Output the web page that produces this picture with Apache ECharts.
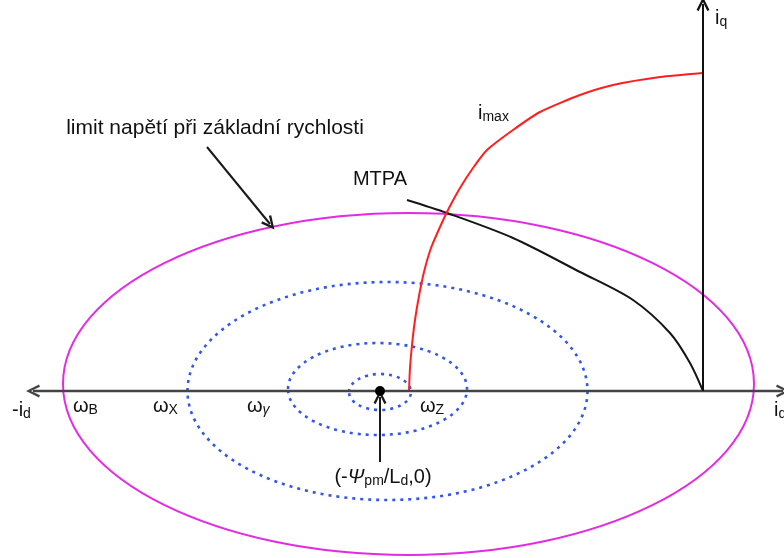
<!DOCTYPE html>
<html>
<head>
<meta charset="utf-8">
<script src="https://cdn.jsdelivr.net/npm/echarts@6/dist/echarts.min.js"></script>
<style>
  html, body { margin: 0; padding: 0; background: #fff; }
  #chart { width: 784px; height: 558px; }
</style>
</head>
<body>
<div id="chart"></div>
<script>
/* ---------- data (id / iq units, origin at the axes crossing) ---------- */
// voltage limit at base speed: [cx, cy, a, b]
const voltageLimit = [[-5.89, 0.14, 6.91, 3.42]];
// higher speed voltage limits (omega_X, omega_Y, omega_Z)
const speedLimits = [
  [-6.31, 0.0, 4.0, 2.18],
  [-6.51, 0.04, 1.79, 0.92],
  [-6.46, -0.02, 0.62, 0.36],
];
// current limit i_max
const imaxCurve = [
  [-5.88, 0], [-5.86, 0.46], [-5.82, 0.92], [-5.76, 1.42], [-5.68, 1.9],
  [-5.58, 2.38], [-5.44, 2.86], [-5.26, 3.28], [-5.08, 3.66], [-4.86, 4.06],
  [-4.6, 4.46], [-4.32, 4.82], [-3.8, 5.22], [-3.26, 5.58], [-2.46, 5.92],
  [-1.8, 6.12], [-0.86, 6.28], [0, 6.36],
];
// MTPA trajectory
const mtpaCurve = [
  [-5.92, 3.82], [-5.12, 3.56], [-3.8, 3.06], [-2.46, 2.38],
  [-1.4, 1.82], [-0.66, 1.16], [-0.26, 0.56], [0, 0],
];
// centre point (-psi/Ld, 0)
const centrePoint = [[-6.46, 0]];
// arrows: [x1, y1, x2, y2, bothEnds]
const idAxis = [-13.4, 0, 1.6, 0, true];
const iqAxis = [0, 0, 0, 7.74, false];
const pointers = [
  [-9.92, 4.88, -8.66, 3.34, false],
  [-6.46, -1.42, -6.46, -0.12, false],
];
// texts: [rich text, x, y, align]
const notes = [
  ["{L|limit napětí při základní rychlosti}", -9.76, 5.26, "center"],
  ["{b|MTPA}", -6.46, 4.24, "center"],
  ["{b|i}{s|max}", -4.5, 5.56, "left"],
  ["{b|i}{s|q}", 0.24, 7.46, "left"],
  ["{b|i}{s|d}", 1.42, -0.38, "left"],
  ["{b|-i}{s|d}", -13.82, -0.38, "left"],
  ["{b|ω}{s|B}", -12.6, -0.3, "left"],
  ["{b|ω}{s|X}", -11.0, -0.3, "left"],
  ["{b|ω}{si|γ}", -9.12, -0.3, "left"],
  ["{b|ω}{s|Z}", -5.66, -0.3, "left"],
  ["{b|(-}{bi|Ψ}{s|pm}{b|/L}{s|d}{b|,0)}", -6.4, -1.72, "center"],
];

/* ---------- helpers ---------- */
const FONT = "'Liberation Sans', Arial, sans-serif";
const TXT = "#111";
const HEAD = "path://M0,13 L6,0 L12,13 L10,14 L6,5 L2,14 Z";

const richStyles = {
  L: { fontFamily: FONT, fontSize: 21, color: TXT },
  b: { fontFamily: FONT, fontSize: 20, color: TXT },
  bi: { fontFamily: FONT, fontSize: 20, color: TXT, fontStyle: "italic" },
  s: { fontFamily: FONT, fontSize: 14, color: TXT, padding: [9, 0, 0, 0] },
  si: { fontFamily: FONT, fontSize: 14, color: TXT, fontStyle: "italic", padding: [9, 0, 0, 0] },
};

function arrowLine(a, color, width) {
  return [
    { coord: [a[0], a[1]], symbol: a[4] ? HEAD : "none", lineStyle: { color: color, width: width } },
    { coord: [a[2], a[3]], symbol: HEAD },
  ];
}

function ellipseSeries(data, style, z) {
  return {
    type: "custom",
    coordinateSystem: "cartesian2d",
    silent: true,
    z: z,
    data: data,
    renderItem: (params, api) => {
      const c = api.coord([api.value(0), api.value(1)]);
      const s = api.size([api.value(2), api.value(3)]);
      return {
        type: "ellipse",
        shape: { cx: c[0], cy: c[1], rx: s[0], ry: s[1] },
        style: Object.assign({ fill: "none" }, style),
      };
    },
  };
}

const chart = echarts.init(document.getElementById("chart"));

const option = {
  animation: false,
  backgroundColor: "#fff",
  grid: { left: 3, right: 1, top: 1, bottom: 2 },
  xAxis: { type: "value", min: -14, max: 1.6, show: false },
  yAxis: { type: "value", min: -3.3, max: 7.8, show: false },
  series: [
    ellipseSeries(voltageLimit, { stroke: "#e32be3", lineWidth: 2 }, 2),
    ellipseSeries(speedLimits, { stroke: "#3457e6", lineWidth: 2.6, lineDash: [3, 5] }, 2),
    {
      type: "line",
      data: imaxCurve,
      z: 4,
      symbol: "none",
      smooth: 0.2,
      lineStyle: { color: "#ff1f1f", width: 2 },
    },
    {
      type: "line",
      data: mtpaCurve,
      z: 3,
      symbol: "none",
      smooth: 0.3,
      lineStyle: { color: "#151515", width: 2 },
    },
    {
      // axes and pointer arrows
      type: "line",
      data: [],
      z: 5,
      markLine: {
        silent: true,
        symbolSize: [13, 14],
        label: { show: false },
        emphasis: { disabled: true },
        lineStyle: { type: "solid", color: "#1a1a1a", width: 2 },
        data: [
          arrowLine(idAxis, "#444", 2.4),
          arrowLine(iqAxis, "#111", 2),
          ...pointers.map((p) => arrowLine(p, "#1a1a1a", 2)),
        ],
      },
    },
    {
      type: "scatter",
      data: centrePoint,
      z: 6,
      symbolSize: 10,
      itemStyle: { color: "#000", opacity: 1 },
    },
    {
      type: "scatter",
      z: 7,
      symbolSize: 0,
      silent: true,
      itemStyle: { opacity: 1 },
      data: notes.map((n) => ({
        value: [n[1], n[2]],
        label: {
          show: true,
          opacity: 1,
          position: n[3] === "left" ? "right" : "inside",
          distance: 0,
          formatter: n[0],
          rich: richStyles,
        },
      })),
    },
  ],
};

chart.setOption(option);
</script>
</body>
</html>
